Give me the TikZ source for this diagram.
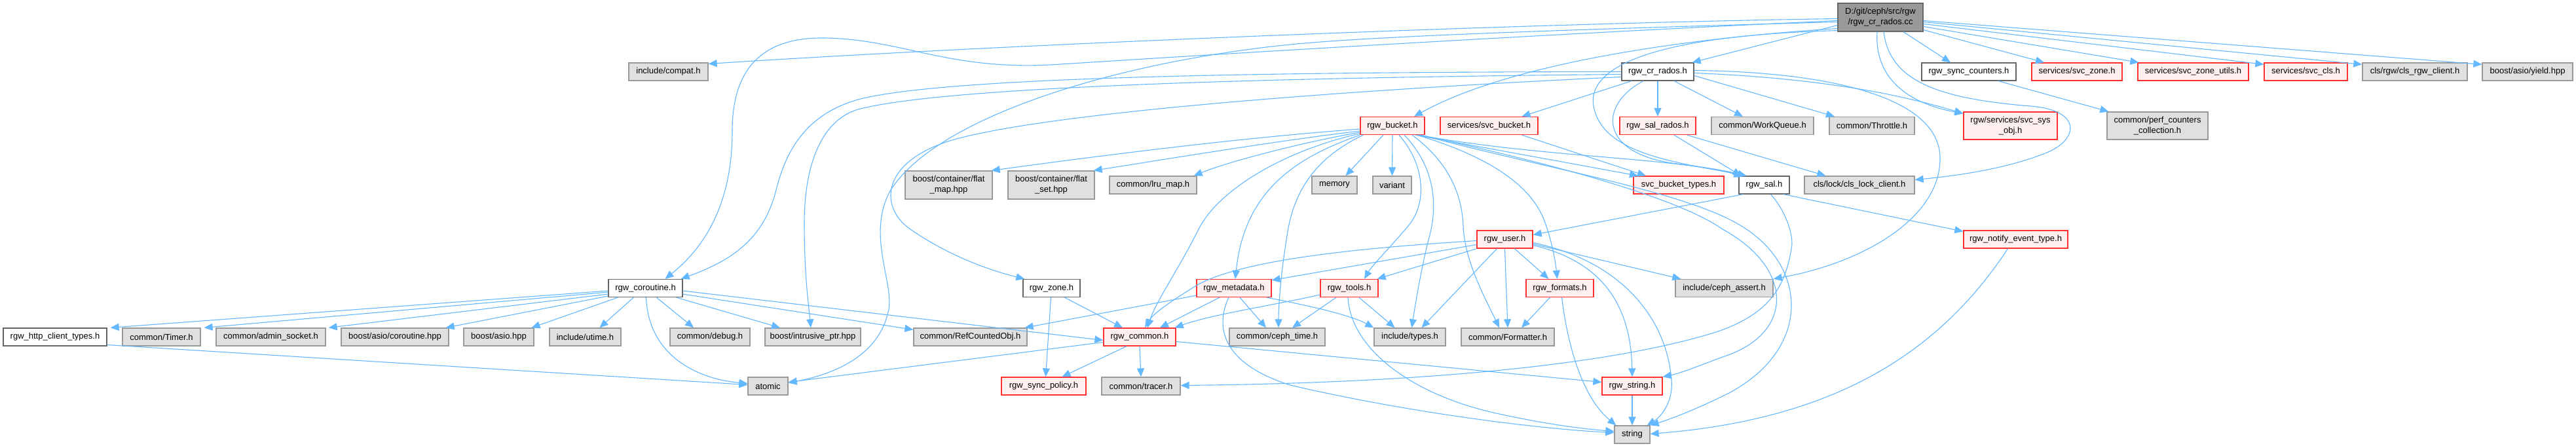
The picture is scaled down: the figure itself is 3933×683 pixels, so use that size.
\documentclass[tikz,border=0pt]{standalone}
\usepackage{fontspec}
\setmainfont{Liberation Sans}
\usetikzlibrary{arrows.meta,calc}
\definecolor{edgecol}{HTML}{63B8FF}
\definecolor{grayfill}{HTML}{E0E0E0}
\definecolor{graybd}{HTML}{999999}
\definecolor{redfill}{HTML}{FFF0F0}
\definecolor{redbd}{HTML}{FF3030}
\definecolor{whitebd}{HTML}{666666}
\definecolor{rootfill}{HTML}{999999}
\begin{document}
\begin{tikzpicture}[x=1pt,y=-1pt,
 box/.style={draw, rectangle, inner sep=0pt, line width=1.3pt, font=\fontsize{13}{16}\selectfont, align=center, minimum height=27},
 gbox/.style={box, fill=grayfill, draw=graybd},
 rbox/.style={box, fill=redfill, draw=redbd},
 wbox/.style={box, fill=white, draw=whitebd},
 rootbox/.style={box, fill=rootfill, draw=whitebd},
 edge/.style={draw=edgecol, line width=1.1pt, -{Triangle[length=13pt,width=11pt]}},
]
\fill[white] (0,0) rectangle (3933,683);
\useasboundingbox (0,0) rectangle (3933,683);

% ---------- nodes ----------
\node[rootbox, minimum width=130, minimum height=43] (root) at (2871,26.5) {D:/git/ceph/src/rgw\\/rgw\_cr\_rados.cc};
\node[gbox, minimum width=121] (compat) at (1020.5,109.5) {include/compat.h};
\node[wbox, minimum width=110] (crh) at (2531,109.5) {rgw\_cr\_rados.h};
\node[wbox, minimum width=144] (synccnt) at (3006,109.5) {rgw\_sync\_counters.h};
\node[rbox, minimum width=138] (svczone) at (3171,109.5) {services/svc\_zone.h};
\node[rbox, minimum width=169] (svczu) at (3348.5,109.5) {services/svc\_zone\_utils.h};
\node[rbox, minimum width=127] (svccls) at (3520.5,109.5) {services/svc\_cls.h};
\node[gbox, minimum width=160] (clsrgw) at (3687,109.5) {cls/rgw/cls\_rgw\_client.h};
\node[gbox, minimum width=138] (yield) at (3859,109.5) {boost/asio/yield.hpp};

\node[rbox, minimum width=98] (bucket) at (2126,192) {rgw\_bucket.h};
\node[rbox, minimum width=149] (svcbucket) at (2273.5,192) {services/svc\_bucket.h};
\node[rbox, minimum width=116] (salrados) at (2531,192) {rgw\_sal\_rados.h};
\node[gbox, minimum width=156] (workq) at (2691,192) {common/WorkQueue.h};
\node[gbox, minimum width=130] (throttle) at (2858,192) {common/Throttle.h};
\node[rbox, minimum width=143, minimum height=42] (sysobj) at (3069.5,192) {rgw/services/svc\_sys\\\_obj.h};
\node[gbox, minimum width=154, minimum height=42] (perf) at (3294,192) {common/perf\_counters\\\_collection.h};

\node[gbox, minimum width=133, minimum height=43] (flatmap) at (1448.5,282.5) {boost/container/flat\\\_map.hpp};
\node[gbox, minimum width=132, minimum height=43] (flatset) at (1605,282.5) {boost/container/flat\\\_set.hpp};
\node[gbox, minimum width=133] (lru) at (1760.5,282.5) {common/lru\_map.h};
\node[gbox, minimum width=69] (memory) at (2037.5,282.5) {memory};
\node[gbox, minimum width=59] (variant) at (2125.5,282.5) {variant};
\node[rbox, minimum width=138] (sbtypes) at (2563,282.5) {svc\_bucket\_types.h};
\node[wbox, minimum width=77] (sal) at (2693.5,282.5) {rgw\_sal.h};
\node[gbox, minimum width=168] (clslock) at (2839,282.5) {cls/lock/cls\_lock\_client.h};

\node[rbox, minimum width=85] (user) at (2297.5,365.5) {rgw\_user.h};
\node[rbox, minimum width=159] (notify) at (3077.5,365.5) {rgw\_notify\_event\_type.h};

\node[wbox, minimum width=113] (coro) at (985.5,440) {rgw\_coroutine.h};
\node[wbox, minimum width=87] (zone) at (1605.5,440) {rgw\_zone.h};
\node[rbox, minimum width=114] (meta) at (1884,440) {rgw\_metadata.h};
\node[rbox, minimum width=88] (tools) at (2060,440) {rgw\_tools.h};
\node[rbox, minimum width=103] (formats) at (2381.5,440) {rgw\_formats.h};
\node[gbox, minimum width=149] (cassert) at (2632.5,440) {include/ceph\_assert.h};

\node[wbox, minimum width=158] (http) at (84,514.5) {rgw\_http\_client\_types.h};
\node[gbox, minimum width=119] (timer) at (246.5,514.5) {common/Timer.h};
\node[gbox, minimum width=167] (admin) at (413.5,514.5) {common/admin\_socket.h};
\node[gbox, minimum width=164] (asiocoro) at (603,514.5) {boost/asio/coroutine.hpp};
\node[gbox, minimum width=107] (asio) at (761.5,514.5) {boost/asio.hpp};
\node[gbox, minimum width=109] (utime) at (893.5,514.5) {include/utime.h};
\node[gbox, minimum width=122] (debug) at (1084,514.5) {common/debug.h};
\node[gbox, minimum width=146] (intr) at (1241,514.5) {boost/intrusive\_ptr.hpp};
\node[gbox, minimum width=173] (refc) at (1481.5,514.5) {common/RefCountedObj.h};
\node[rbox, minimum width=110] (common) at (1740,514.5) {rgw\_common.h};
\node[gbox, minimum width=146] (ctime) at (1950,514.5) {common/ceph\_time.h};
\node[gbox, minimum width=109] (types) at (2152.5,514.5) {include/types.h};
\node[gbox, minimum width=142] (fmt) at (2302,514.5) {common/Formatter.h};

\node[gbox, minimum width=61] (atomic) at (1172.5,589.5) {atomic};
\node[rbox, minimum width=129] (policy) at (1593.5,589.5) {rgw\_sync\_policy.h};
\node[gbox, minimum width=120] (tracer) at (1742,589.5) {common/tracer.h};
\node[rbox, minimum width=92] (rstring) at (2492,589.5) {rgw\_string.h};
\node[gbox, minimum width=54] (string) at (2492,663.5) {string};

% ---------- edges from root ----------
\draw[edge] ([yshift=-2pt]root.west) .. controls (2300,36) and (1500,70) .. ([yshift=12pt]compat.east);
\draw[edge] ([yshift=-5pt]root.west) .. controls (2400,50) and (1900,80) .. (1620,98) .. controls (1450,110) and (1380,60) .. (1260,58) .. controls (1150,56) and (1118,120) .. (1118,200) .. controls (1118,330) and (1060,390) .. ([xshift=30pt]coro.north);
\draw[edge] ([yshift=-7pt]root.west) .. controls (2400,45) and (2100,55) .. (1970,68) .. controls (1700,95) and (1430,180) .. (1360,290) .. controls (1320,360) and (1370,440) .. (1355,480) .. controls (1340,540) and (1280,570) .. ([yshift=5pt]atomic.east);
\draw[edge] ([yshift=-12pt]root.west) -- ([xshift=-3pt]crh.north east);
\draw[edge] ([yshift=-17pt]root.west) .. controls (2550,60) and (2300,100) .. ([xshift=33pt]bucket.north);
\draw[edge] ([yshift=2pt]root.south west) .. controls (2500,55) and (2415,110) .. (2435,170) .. controls (2455,240) and (2580,250) .. ([xshift=8pt]sal.north west);
\draw[edge] ([xshift=35pt]root.south) -- ([xshift=-28pt]synccnt.north);
\draw[edge] ([yshift=3pt]root.south east) -- ([xshift=-50pt]svczone.north);
\draw[edge] ([yshift=-14pt]root.east) -- ([xshift=2pt]svczu.north west);
\draw[edge] ([yshift=-10pt]root.east) -- ([yshift=-3pt]svccls.north west);
\draw[edge] ([yshift=-7pt]root.east) -- ([yshift=-3pt]clsrgw.north west);
\draw[edge] ([yshift=-5pt]root.east) -- ([yshift=-3pt]yield.north west);
\draw[edge] ([xshift=-5pt]root.south) .. controls (2862,110) and (2900,155) .. ([yshift=-3pt]sysobj.north west);
\draw[edge] ([xshift=5pt]root.south) .. controls (2885,120) and (2950,150) .. (3100,162) .. controls (3180,168) and (3175,215) .. (3120,235) .. controls (3060,258) and (2990,268) .. ([yshift=8pt]clslock.east);

% ---------- rgw_cr_rados.h ----------
\draw[edge] (crh.west) .. controls (2000,110) and (1450,115) .. (1310,152) .. controls (1230,175) and (1200,230) .. (1185,290) .. controls (1165,370) and (1110,400) .. ([xshift=-3pt]coro.north east);
\draw[edge] ([yshift=-4pt]crh.west) .. controls (2000,118) and (1450,130) .. (1310,167) .. controls (1250,185) and (1228,260) .. (1228,340) .. controls (1228,420) and (1234,460) .. ([xshift=-3pt]intr.north);
\draw[edge] ([yshift=-8pt]crh.west) .. controls (2100,135) and (1600,170) .. (1450,215) .. controls (1340,250) and (1345,320) .. (1390,350) .. controls (1440,385) and (1500,410) .. ([xshift=3pt]zone.north west);
\draw[edge] ([xshift=-40pt]crh.south) -- ([xshift=50pt]svcbucket.north);
\draw[edge] (crh.south) -- (salrados.north);
\draw[edge] ([xshift=-22pt]crh.south) .. controls (2440,160) and (2440,235) .. (2560,250) .. controls (2610,256) and (2640,262) .. ([xshift=12pt]sal.north west);
\draw[edge] ([xshift=25pt]crh.south) -- ([xshift=-30pt]workq.north);
\draw[edge] ([yshift=-6pt]crh.east) -- ([xshift=-57pt]throttle.north);
\draw[edge] ([yshift=-2pt]crh.east) .. controls (2800,120) and (2920,150) .. ([yshift=-3pt]sysobj.north west);
\draw[edge] ([yshift=2pt]crh.east) .. controls (2800,110) and (2960,150) .. (2962,240) .. controls (2964,330) and (2850,400) .. (cassert.north east);

% ---------- rgw_sal_rados.h / svc_bucket.h ----------
\draw[edge] ([xshift=25pt]salrados.south) -- ([xshift=4pt]sal.north west);
\draw[edge] ([xshift=-14pt]salrados.south east) -- ([xshift=33pt]clslock.north west);
\draw[edge] ([xshift=50pt]svcbucket.south) -- ([xshift=-50pt]sbtypes.north);

% ---------- rgw_bucket.h ----------
\draw[edge] ([yshift=-5pt]bucket.west) .. controls (1900,210) and (1700,235) .. ([xshift=-2pt]flatmap.north east);
\draw[edge] ([yshift=-8pt]bucket.west) .. controls (1950,215) and (1800,240) .. ([xshift=-2pt]flatset.north east);
\draw[edge] ([yshift=-10pt]bucket.west) .. controls (2000,215) and (1880,245) .. ([xshift=-5pt]lru.north east);
\draw[edge] ([yshift=-12pt]bucket.west) .. controls (1960,230) and (1860,290) .. (1830,350) .. controls (1800,410) and (1765,460) .. ([xshift=12pt]common.north);
\draw[edge] (bucket.south west) .. controls (1980,240) and (1900,290) .. ([xshift=2pt]meta.north);
\draw[edge] ([xshift=5pt]bucket.south west) .. controls (2010,240) and (1975,290) .. (1965,360) .. controls (1955,420) and (1952,470) .. ([xshift=2pt]ctime.north);
\draw[edge] ([xshift=-14pt]bucket.south) -- ([xshift=17pt]memory.north);
\draw[edge] (bucket.south) -- (variant.north);
\draw[edge] ([xshift=10pt]bucket.south) .. controls (2175,250) and (2180,310) .. (2150,345) .. controls (2125,375) and (2095,405) .. ([xshift=23pt]tools.north);
\draw[edge] ([xshift=18pt]bucket.south) .. controls (2200,265) and (2192,330) .. (2180,370) .. controls (2168,420) and (2160,470) .. ([xshift=3pt]types.north);
\draw[edge] ([xshift=30pt]bucket.south) .. controls (2215,250) and (2232,300) .. (2234,345) .. controls (2236,400) and (2270,460) .. ([xshift=-13pt]fmt.north);
\draw[edge] ([xshift=-12pt]bucket.south east) .. controls (2260,235) and (2330,275) .. (2355,330) .. controls (2368,360) and (2375,400) .. ([xshift=-4pt]formats.north);
\draw[edge] ([xshift=35pt]bucket.south) -- ([xshift=-62pt]sbtypes.north);
\draw[edge] ([xshift=-10pt]bucket.south east) .. controls (2350,240) and (2550,240) .. ([xshift=6pt]sal.north west);
\draw[edge] ([xshift=-8pt]bucket.south east) .. controls (2350,245) and (2560,300) .. (2630,350) .. controls (2740,410) and (2740,510) .. (2630,545) .. controls (2590,560) and (2565,570) .. (rstring.north east);
\draw[edge] ([xshift=-6pt]bucket.south east) .. controls (2350,255) and (2560,290) .. (2650,340) .. controls (2760,400) and (2770,530) .. (2640,600) .. controls (2590,625) and (2550,640) .. (string.north east);

% ---------- rgw_coroutine.h ----------
\draw[edge] ([yshift=-4pt]coro.west) -- ([xshift=5pt]http.north east);
\draw[edge] ([yshift=-6pt]coro.west) -- ([xshift=5pt]timer.north east);
\draw[edge] ([yshift=-9pt]coro.west) -- ([xshift=4pt]admin.north east);
\draw[edge] ([yshift=-12pt]coro.west) -- ([xshift=-5pt]asiocoro.north east);
\draw[edge] ([xshift=15pt]coro.south west) -- ([xshift=50pt]asio.north);
\draw[edge] ([xshift=39pt]coro.south west) -- ([xshift=22pt]utime.north);
\draw[edge] ([xshift=74pt]coro.south west) -- ([xshift=-25pt]debug.north);
\draw[edge] ([xshift=-10pt]coro.south east) -- ([xshift=-50pt]intr.north);
\draw[edge] ([xshift=1pt]coro.south) .. controls (990,540) and (1060,578) .. ([yshift=4pt]atomic.west);
\draw[edge] ([yshift=-9pt]coro.east) -- ([yshift=-3pt]refc.north west);
\draw[edge] ([yshift=-4pt]coro.east) -- ([yshift=-5pt]common.west);
\draw[edge] ([yshift=-12pt]http.east) -- ([yshift=2pt]atomic.west);

% ---------- rgw_zone.h / rgw_common.h ----------
\draw[edge] ([xshift=20pt]zone.south) -- ([xshift=-26pt]common.north);
\draw[edge] ([xshift=-1pt]zone.south) -- ([xshift=3pt]policy.north);
\draw[edge] ([xshift=-20pt]common.south) -- ([xshift=28pt]policy.north);
\draw[edge] (common.south) -- (tracer.north);
\draw[edge] ([yshift=-8pt]common.west) -- ([yshift=6pt]atomic.east);
\draw[edge] ([yshift=-7pt]common.east) -- ([yshift=6pt]rstring.west);

% ---------- rgw_metadata.h ----------
\draw[edge] ([xshift=-22pt]meta.south) -- ([xshift=31pt]common.north);
\draw[edge] ([xshift=9pt]meta.south) -- ([xshift=-17pt]ctime.north);
\draw[edge] ([yshift=3pt]meta.south west) -- ([xshift=-4pt]refc.north east);
\draw[edge] ([xshift=-8pt]meta.south east) .. controls (1990,465) and (2060,480) .. (types.north west);
\draw[edge] ([xshift=-8pt]meta.south) .. controls (1850,510) and (1880,560) .. (1970,588) .. controls (2150,630) and (2350,655) .. ([yshift=3pt]string.west);

% ---------- rgw_tools.h ----------
\draw[edge] ([yshift=-10pt]tools.west) .. controls (1950,465) and (1850,480) .. ([xshift=-2pt]common.north east);
\draw[edge] ([xshift=-20pt]tools.south) -- ([xshift=23pt]ctime.north);
\draw[edge] ([xshift=15pt]tools.south) -- ([xshift=-23pt]types.north);
\draw[edge] ([xshift=-2pt]tools.south) .. controls (2062,530) and (2150,600) .. (2280,630) .. controls (2360,648) and (2420,655) .. ([yshift=5pt]string.west);

% ---------- rgw_user.h ----------
\draw[edge] ([yshift=-2pt]user.west) .. controls (2050,380) and (1880,400) .. (1820,440) .. controls (1780,465) and (1760,480) .. ([xshift=8pt]common.north);
\draw[edge] ([yshift=-8pt]user.west) -- ([yshift=-2pt]meta.north east);
\draw[edge] (user.south west) -- ([xshift=-2pt]tools.north east);
\draw[edge] ([xshift=-12pt]user.south) -- ([xshift=18pt]types.north);
\draw[edge] (user.south) -- (fmt.north);
\draw[edge] ([xshift=15pt]user.south) -- ([xshift=-17pt]formats.north);
\draw[edge] ([yshift=-7pt]user.east) -- ([xshift=9pt]cassert.north west);
\draw[edge] ([yshift=-9pt]user.east) .. controls (2450,400) and (2490,470) .. (rstring.north);
\draw[edge] ([yshift=-5pt]user.east) .. controls (2480,400) and (2545,490) .. (2552,580) .. controls (2555,620) and (2530,640) .. ([xshift=-5pt]string.north east);

% ---------- rgw_formats.h / rgw_string.h / notify ----------
\draw[edge] ([xshift=-15pt]formats.south) -- ([xshift=21pt]fmt.north);
\draw[edge] ([xshift=3pt]formats.south) .. controls (2395,540) and (2420,610) .. ([xshift=3pt]string.north west);
\draw[edge] (rstring.south) -- (string.north);
\draw[edge] ([xshift=-12pt]notify.south) .. controls (2960,540) and (2800,640) .. ([yshift=1pt]string.east);

% ---------- rgw_sal.h ----------
\draw[edge] ([xshift=7pt]sal.south west) -- ([yshift=7pt]user.east);
\draw[edge] ([xshift=49pt]sal.south west) .. controls (2725,320) and (2740,360) .. (2735,380) .. controls (2725,440) and (2700,480) .. (2620,507) .. controls (2450,560) and (2150,585) .. ([yshift=1pt]tracer.east);
\draw[edge] ([xshift=-10pt]sal.south east) -- ([yshift=-2pt]notify.north west);

% ---------- rgw_sync_counters.h ----------
\draw[edge] ([xshift=45pt]synccnt.south) -- ([xshift=3pt]perf.north west);
\end{tikzpicture}
\end{document}
